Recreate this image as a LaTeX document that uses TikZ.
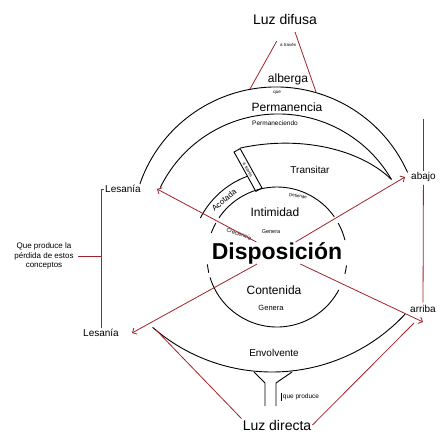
\documentclass[tikz,border=0pt]{standalone}
\usepackage{fontspec}
\setmainfont{Liberation Sans}
\usetikzlibrary{positioning,arrows.meta}
\definecolor{penred}{RGB}{160,35,40}

\begin{document}
\begin{tikzpicture}[x=1pt,y=1pt]
    \tikzstyle{every node}=[inner sep=1pt]
    \tikzstyle{rim}=[line width=0.9pt]
    \tikzstyle{redline}=[penred,line width=0.8pt]
    \tikzstyle{redarrow}=[redline,-{Straight Barb[length=3.5pt,width=7pt]}]
    \tikzstyle{hugetext}=[font=\fontsize{14}{16}\selectfont]
    \tikzstyle{bigtext}=[font=\fontsize{12}{14}\selectfont]
    \tikzstyle{midtext}=[font=\fontsize{10}{12}\selectfont]
    \tikzstyle{smalltext}=[font=\fontsize{6.5}{8}\selectfont]
    \tikzstyle{tinytext}=[font=\fontsize{4.5}{5}\selectfont]

    \useasboundingbox (0,0) rectangle (446,439);

    % centre of the inner ring
    \coordinate (o) at (277,182);

    % outer bands
    \draw[rim] (276,208) ++(161:144pt) arc[start angle=161,end angle=24,radius=144pt];
    \draw[rim] (278,194) ++(154:131pt) arc[start angle=154,end angle=30,radius=131pt]
        coordinate (meet);
    \draw[rim] (272,249) ++(229:182pt) arc[start angle=229,end angle=317,radius=182pt];

    % inner ring, broken round the title
    \draw[rim] (o) ++(35:70pt) arc[start angle=35,end angle=146,radius=70pt];
    \draw[rim] (o) ++(151:70pt) arc[start angle=151,end angle=160,radius=70pt];
    \draw[rim] (o) ++(14:70pt) arc[start angle=14,end angle=29,radius=70pt];
    \draw[rim] (o) ++(186:70pt) arc[start angle=186,end angle=193,radius=70pt];
    \draw[rim] (o) ++(346:70pt) arc[start angle=346,end angle=353,radius=70pt];
    \draw[rim] (o) ++(197:70pt) arc[start angle=197,end angle=332,radius=70pt];
    \draw[rim] (o) ++(153:86pt) arc[start angle=153,end angle=110,radius=86pt];

    % small box and the Transitar band
    \node[draw,rim,rotate=-61,minimum width=45pt,minimum height=7pt,inner sep=0pt,
        tinytext] (via) at (248,269) {a través};
    \draw[rim] (via.north west) .. controls (300,304) and (360,290) .. (meet);

    % funnel down to Luz directa
    \draw[rim] (254,67) -- (265,56) -- (265,33);
    \draw[rim] (292,67) -- (276,56) -- (276,33);

    % free ends
    \coordinate (difL) at (250,350);
    \coordinate (difR) at (316,347);
    \coordinate (envL) at (156,109);
    \coordinate (envR) at (414,116);
    \coordinate (tipU) at (157,250);
    \coordinate (tipR) at (405,262);
    \coordinate (tipL) at (132,106);
    \coordinate (tipD) at (423,117);

    % labels
    \node[hugetext] (difusa) at (285,419) {Luz difusa};
    \node[tinytext] (trav) at (288,394) {a través};
    \node[bigtext] (alberga) at (288,360) {alberga};
    \node[tinytext] (que) at (277,346) {que};
    \node[bigtext] (perm) at (287,332) {Permanencia};
    \node[smalltext] (permd) at (275,316) {Permaneciendo};
    \node[midtext] (trans) at (310,269) {Transitar};
    \node[font=\fontsize{8}{10}\selectfont,rotate=40,inner sep=0pt] (acot) at (224,239) {Acotada};
    \node[tinytext,rotate=-8] (def) at (298,243) {Defiende};
    \node[bigtext] (intim) at (275,227) {Intimidad};
    \node[font=\fontsize{5.5}{7}\selectfont,rotate=-20,inner sep=0pt] (crec) at (239,205) {Creciencia};
    \node[font=\fontsize{5.5}{7}\selectfont] (gen1) at (271,207) {Genera};
    \node[font=\fontsize{23}{26}\selectfont\bfseries,inner sep=0pt] (disp) at (277,186)
        {Disposición};
    \node[bigtext] (cont) at (274,149) {Contenida};
    \node[font=\fontsize{7.5}{9}\selectfont] (gen2) at (271,131) {Genera};
    \node[midtext] (env) at (274,86) {Envolvente};
    \node[smalltext] (qp) at (301,42) {que produce};
    \node[hugetext] (directa) at (277,14) {Luz directa};

    \node[midtext,left=15pt of tipU] (lesU) {Lesanía};
    \node[midtext,left=12pt of tipL] (lesL) {Lesanía};
    \node[midtext,right=5pt of tipR] (abajo) {abajo};
    \node[midtext,above=8pt of tipD] (arriba) {arriba};
    \node[font=\fontsize{8}{9.5}\selectfont,align=center] (note) at (44,183)
        {Que produce la\\pérdida de estos\\conceptos};

    % red links
    \draw[redarrow] (disp) -- (tipU);
    \draw[redarrow] (disp) -- (tipR);
    \draw[redarrow] (disp) -- (tipL);
    \draw[redarrow] (disp) -- (tipD);
    \draw[redline,shorten <=17pt] (difusa.south) -- (difL);
    \draw[redline,shorten <=6pt] ([xshift=8pt]difusa.south) -- (difR);
    \draw[redline] (envL) -- (directa.north west);
    \draw[redline] (envR) -- (directa.east);
    \draw[redline] (lesU.west) -| (lesL.north);
    \draw[redline,shorten <=3pt] (note.east) -- (note.east -| lesL.north);
    \draw[redline] (abajo.north) -- ++(0,52);
    \draw[redline,shorten <=2pt,shorten >=2pt] (abajo) -- (arriba);
    \draw[line width=0.6pt] (qp.north west) -- (qp.south west);

\end{tikzpicture}
\end{document}
